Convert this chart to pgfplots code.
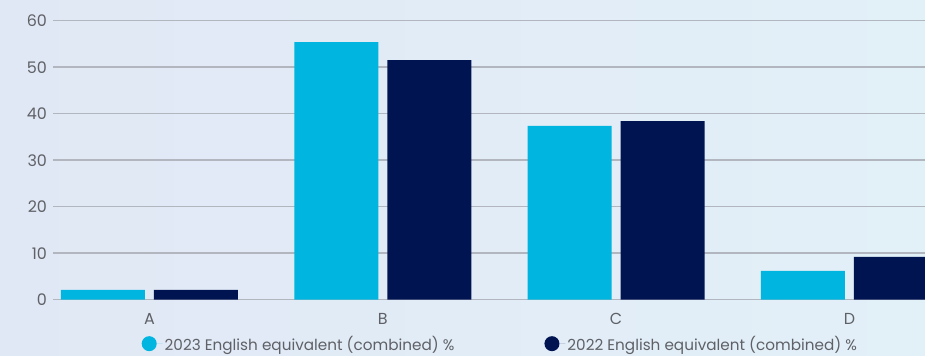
\documentclass[border=0pt]{standalone}
\usepackage{pgfplots}
\pgfplotsset{compat=1.18}
\usepackage{fontspec}
\setmainfont{Poppins}
\definecolor{cyanbar}{RGB}{0,181,223}
\definecolor{navybar}{RGB}{0,20,82}
\definecolor{gridc}{RGB}{178,182,190}
\definecolor{txt}{RGB}{95,97,102}
\definecolor{bgL}{RGB}{225,232,245}
\definecolor{bgR}{RGB}{226,240,248}
\begin{document}
\begin{tikzpicture}[x=1bp,y=1bp]
\useasboundingbox (0,0) rectangle (925,355);
\shade[left color=bgL,right color=bgR] (0,0) rectangle (925,355);
\begin{axis}[
  at={(53bp,55.3bp)}, anchor=south west,
  scale only axis, width=872bp, height=279bp,
  xmin=-0.4136, xmax=3.324, ymin=0, ymax=60,
  axis line style={draw=none}, tick style={draw=none},
  /pgf/number format/assume math mode=true,
  ytick={0,10,...,60}, ymajorgrids, grid style={gridc, line width=1.5bp},
  xtick={0,1,2,3}, xticklabels={A,B,C,D},
  ybar=9bp, bar width=84bp,
  tick label style={font=\fontsize{16}{16}\selectfont, text=txt},
  yticklabel style={xshift=-2.5bp},
  xticklabel style={yshift=-6bp},
  legend columns=2,
  legend style={at={(0.1015,-0.1576)}, anchor=west, inner sep=0pt, draw=none, fill=none,
    font=\fontsize{15.3}{15.3}\selectfont, text=txt,
    /tikz/every even column/.append style={column sep=88bp}},
  legend image code/.code={\fill[#1] (7.5bp,0bp) circle (7.5bp); \path (0,0) -- (21bp,0);},
]
\addplot[fill=cyanbar, draw=none] coordinates {(0,2.1) (1,55.4) (2,37.4) (3,6.2)};
\addplot[fill=navybar, draw=none] coordinates {(0,2.1) (1,51.5) (2,38.4) (3,9.2)};
\legend{2023 English equivalent (combined) \%, 2022 English equivalent (combined) \%}
\end{axis}
\end{tikzpicture}
\end{document}
